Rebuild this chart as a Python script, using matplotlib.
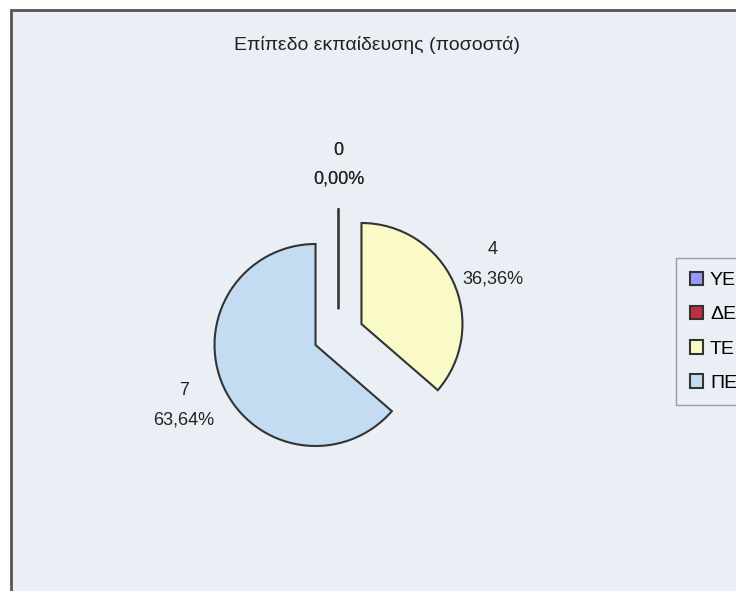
import matplotlib
matplotlib.use("Agg")
import matplotlib.pyplot as plt
import matplotlib.patches as patches

# --- data ---
categories = ["ΥΕ", "ΔΕ", "ΤΕ", "ΠΕ"]
counts = [0, 0, 4, 7]
colors = ["#9999FF", "#C0303C", "#FAFAC8", "#C4DCF2"]
title = "Επίπεδο εκπαίδευσης (ποσοστά)"

W, H = 736, 591
R = 101  # pie radius in pixels
plt.rcParams['font.family'] = ['Liberation Sans', 'DejaVu Sans']

fig = plt.figure(figsize=(W / 100, H / 100), dpi=100)
fig.patch.set_facecolor("white")

# chart area (extends past the right and bottom edges, like the scan)
bg = patches.Rectangle((11 / W, -0.1), 1.2, 1 - 10 / H + 0.1,
                       transform=fig.transFigure, facecolor="#EAEFF6",
                       edgecolor="#555555", linewidth=2, zorder=-1)
fig.patches.append(bg)

# axes in pixel units, y pointing up
ax = fig.add_axes([0, 0, 1, 1])
ax.patch.set_alpha(0)

total = sum(counts)
labels = [f"{v}\n{100 * v / total:.2f}%".replace(".", ",") for v in counts]

# explode offsets are in data units, so scale by the radius
wedges, texts = ax.pie(
    counts, labels=labels, colors=colors,
    startangle=90, counterclock=False,
    explode=[0.25 * R] * len(counts),
    center=(338.5, H - 334.5), radius=R,
    labeldistance=1.43,
    wedgeprops=dict(edgecolor="#333333", linewidth=1.5),
    textprops=dict(ha="center", va="center", multialignment="center",
                   fontsize=13, color="#222222", linespacing=1.95),
)

ax.set_xlim(0, W)
ax.set_ylim(0, H)
ax.set_aspect("auto")
ax.axis("off")

fig.text(377 / W, 1 - 45 / H, title, ha="center", va="center",
         fontsize=14, color="#222222")

leg = ax.legend(wedges, categories, loc="upper left",
                bbox_to_anchor=(676 / W, 1 - 258 / H),
                bbox_transform=fig.transFigure,
                fontsize=14, frameon=True, fancybox=False,
                handlelength=0.7, handleheight=0.7,
                handletextpad=0.35, labelspacing=0.85,
                borderpad=0.7, borderaxespad=0)
leg.get_frame().set_edgecolor("#888888")
leg.get_frame().set_facecolor("#EAEFF6")
leg.get_frame().set_linewidth(1)

fig.savefig("out.png", dpi=100)
